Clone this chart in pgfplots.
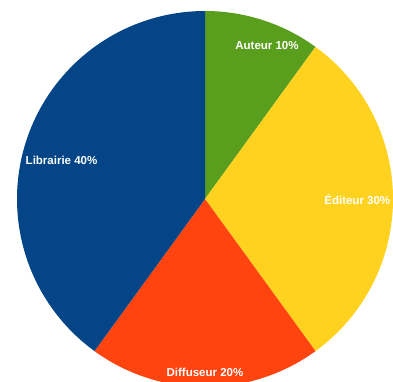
\documentclass[border=0pt]{standalone}
\usepackage{fontspec}
\setmainfont{Liberation Sans}
\usepackage{pgfplots}
\usepackage{pgfplotstable}
\pgfplotsset{compat=1.18}
\definecolor{cA}{HTML}{5A9E1E}
\definecolor{cB}{HTML}{FFD21F}
\definecolor{cC}{HTML}{FF4410}
\definecolor{cD}{HTML}{034587}
\pgfplotstableread{
name pct la lr col
Auteur 10 68 0.88 cA
Éditeur 30 0 0.81 cB
Diffuseur 20 -90 0.92 cC
Librairie 40 165 0.79 cD
}\piedata
\begin{document}
\begin{tikzpicture}
\begin{axis}[scale only axis, width=393pt, height=381pt,
  xmin=-205, xmax=188, ymin=-182, ymax=199, hide axis, clip=true]
\xdef\startang{90}
\pgfplotsinvokeforeach{0,...,3}{
  \pgfplotstablegetelem{#1}{pct}\of\piedata \let\ppct=\pgfplotsretval
  \pgfplotstablegetelem{#1}{col}\of\piedata \let\pcol=\pgfplotsretval
  \pgfmathsetmacro\endang{\startang-3.6*\ppct}
  \edef\temp{\noexpand\addplot[fill=\pcol, draw=none, domain=\endang:\startang, samples=120]
    ({188*cos(x)},{188*sin(x)}) -- (axis cs:0,0) -- cycle;}
  \temp
  \xdef\startang{\endang}
}
\pgfplotsinvokeforeach{0,...,3}{
  \pgfplotstablegetelem{#1}{pct}\of\piedata \let\ppct=\pgfplotsretval
  \pgfplotstablegetelem{#1}{name}\of\piedata \let\pname=\pgfplotsretval
  \pgfplotstablegetelem{#1}{la}\of\piedata \let\pla=\pgfplotsretval
  \pgfplotstablegetelem{#1}{lr}\of\piedata \let\plr=\pgfplotsretval
  \pgfmathsetmacro\lx{188*\plr*cos(\pla)}
  \pgfmathsetmacro\ly{188*\plr*sin(\pla)}
  \edef\temp{\noexpand\node[text=white, font=\noexpand\fontsize{11.5}{13}\noexpand\selectfont\noexpand\bfseries]
    at (axis cs:\lx,\ly) {\pname\space\ppct\noexpand\%};}
  \temp
}
\end{axis}
\pgfresetboundingbox
\useasboundingbox (current axis.south west) rectangle (current axis.north east);
\end{tikzpicture}
\end{document}
